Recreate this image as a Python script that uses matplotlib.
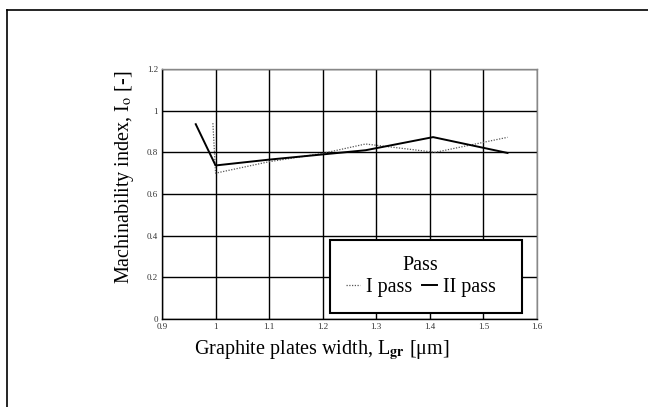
import matplotlib
matplotlib.use("Agg")
import matplotlib.pyplot as plt
from matplotlib.lines import Line2D
from matplotlib.patches import Rectangle

plt.rcParams['font.family'] = ['Liberation Serif', 'DejaVu Serif']
plt.rcParams['mathtext.fontset'] = 'stix'

# Data
pass1_x = [0.995, 1.0, 1.1, 1.2, 1.28, 1.41, 1.545]
pass1_y = [0.94, 0.70, 0.755, 0.795, 0.84, 0.80, 0.872]
pass2_x = [0.963, 1.0, 1.1, 1.2, 1.28, 1.406, 1.545]
pass2_y = [0.935, 0.737, 0.765, 0.79, 0.81, 0.873, 0.797]

x_ticks = [0.9, 1.0, 1.1, 1.2, 1.3, 1.4, 1.5, 1.6]
x_labels = ["0.9", "1", "1.1", "1.2", "1.3", "1.4", "1.5", "1.6"]
y_ticks = [0, 0.2, 0.4, 0.6, 0.8, 1.0, 1.2]
y_labels = ["0", "0.2", "0.4", "0.6", "0.8", "1", "1.2"]

fig = plt.figure(figsize=(6.48, 4.07), dpi=100)
ax = fig.add_axes([0.25, 0.2162, 0.5787, 0.6143])

ax.plot(pass1_x, pass1_y, color='#555555', lw=0.9, linestyle=(0, (1, 1.2)), label='I pass')
ax.plot(pass2_x, pass2_y, color='black', lw=1.4, label='II pass')

ax.set_xlim(0.9, 1.6)
ax.set_ylim(0, 1.2)
ax.set_xticks(x_ticks)
ax.set_xticklabels(x_labels)
ax.set_yticks(y_ticks)
ax.set_yticklabels(y_labels)
ax.tick_params(length=0, labelsize=6.5, colors='#333333', pad=3)
ax.grid(True, color='black', lw=1.0)
for s in ax.spines.values():
    s.set_color('#888888')
    s.set_linewidth(1.0)
ax.spines['left'].set_color('black')
ax.spines['bottom'].set_color('black')

ax.set_ylabel(r"Machinability index, I$_\mathrm{o}$ [-]", fontsize=14.5)
ax.yaxis.set_label_coords(-0.07, 0.565)
fig.text(322 / 648, 1 - 350 / 407, r"Graphite plates width, L$_\mathbf{gr}$ [μm]",
         fontsize=14.5, ha='center', va='center')

# Legend box
ax.add_patch(Rectangle((0.448, 0.024), 0.512, 0.292, transform=ax.transAxes,
                       facecolor='white', edgecolor='black', lw=1.5, zorder=5))
leg = ax.legend(title='Pass', ncol=2, loc='center',
                bbox_to_anchor=(0.69, 0.17), frameon=False,
                fontsize=14.5, title_fontsize=14.5, handlelength=0.7,
                handletextpad=0.3, columnspacing=0.5, borderpad=0,
                labelspacing=0.1)
leg.set_zorder(6)

# Outer frame (top and left lines)
fig.add_artist(Line2D([6.5 / 648, 1.0], [1 - 10 / 407, 1 - 10 / 407], color='black', lw=1.2))
fig.add_artist(Line2D([6.5 / 648, 6.5 / 648], [0, 1 - 10 / 407], color='black', lw=1.2))

fig.savefig("out.png", dpi=100)
